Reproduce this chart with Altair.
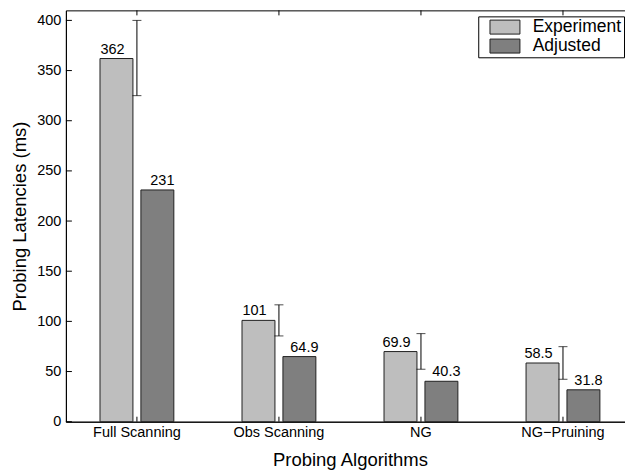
import altair as alt
import pandas as pd

categories = ["Full Scanning", "Obs Scanning", "NG", "NG\u2212Pruining"]
series = ["Experiment", "Adjusted"]
experiment = [362, 101, 69.9, 58.5]
adjusted = [231, 64.9, 40.3, 31.8]
err_low = [325, 85.5, 52.3, 42.3]
err_high = [400, 116.5, 87.8, 74.8]
y_ticks = [0, 50, 100, 150, 200, 250, 300, 350, 400]
colors = ["#bebebe", "#7f7f7f"]

W, H = 569, 412
FONT = "Liberation Sans"
XT = "Probing Algorithms"
YT = "Probing Latencies (ms)"

bars_df = pd.DataFrame({
    "algo": categories * 2,
    "series": [series[0]] * len(categories) + [series[1]] * len(categories),
    "value": experiment + adjusted,
})
err_df = pd.DataFrame({"algo": categories, "lo": err_low, "hi": err_high})
yt_df = pd.DataFrame({"v": y_ticks})
xt_df = pd.DataFrame({"algo": categories})

xscale = alt.Scale(domain=categories, paddingInner=0, paddingOuter=0)
yscale = alt.Scale(domain=[0, 410], nice=False, zero=True)

xaxis = alt.Axis(title=XT, labelAngle=0, ticks=False, tickSize=0, domain=True,
                 domainColor="black", domainWidth=1, labelPadding=4,
                 labelFontSize=14.5, titleFontSize=18.5, titlePadding=11.5,
                 titleFontWeight="normal", labelColor="black", titleColor="black",
                 labelFont=FONT, titleFont=FONT, grid=False)
yaxis = alt.Axis(title=YT, values=y_ticks, ticks=False, tickSize=0, domain=True,
                 domainColor="black", domainWidth=1, labelPadding=5,
                 labelFontSize=14.5, titleFontSize=18.5, titlePadding=7,
                 titleFontWeight="normal", labelColor="black", titleColor="black",
                 labelFont=FONT, titleFont=FONT, grid=False)

def X():
    return alt.X("algo:N", sort=categories, scale=xscale, axis=xaxis, title=XT)

def Y(field):
    return alt.Y(field, scale=yscale, axis=yaxis, title=YT)

off_scale = alt.Scale(domain=series, paddingInner=0.195, paddingOuter=0.833)

bars = alt.Chart(bars_df).mark_bar(stroke="#202020", strokeWidth=1).encode(
    x=X(),
    xOffset=alt.XOffset("series:N", sort=series, scale=off_scale),
    y=Y("value:Q"),
    color=alt.Color("series:N", sort=series,
                    scale=alt.Scale(domain=series, range=colors),
                    legend=alt.Legend(title=None, orient="none", legendX=413, legendY=6,
                                      symbolType="M0.143,-1H4.43V1H0.143Z", symbolSize=196,
                                      symbolStrokeColor="#202020", symbolStrokeWidth=1,
                                      symbolOpacity=1, labelFontSize=17.5, labelOffset=35,
                                      padding=2, rowPadding=0, strokeColor="black",
                                      fillColor="white", labelFont=FONT, labelColor="black")),
)

def labels(name, dx):
    return alt.Chart(bars_df).transform_filter(alt.datum.series == name).mark_text(
        dy=-5, dx=dx, baseline="alphabetic", fontSize=14.5, font=FONT, color="black"
    ).encode(
        x=X(),
        xOffset=alt.XOffset("series:N", sort=series, scale=off_scale),
        y=Y("value:Q"),
        text=alt.Text("value:Q", format=".3~g"),
    )

err_rule = alt.Chart(err_df).mark_rule(color="black", strokeWidth=1).encode(
    x=X(), y=Y("lo:Q"), y2="hi:Q")
cap_lo = alt.Chart(err_df).mark_tick(color="black", thickness=1, size=9, orient="horizontal").encode(
    x=X(), y=Y("lo:Q"))
cap_hi = alt.Chart(err_df).mark_tick(color="black", thickness=1, size=9, orient="horizontal").encode(
    x=X(), y=Y("hi:Q"))

ytick_l = alt.Chart(yt_df).mark_rule(color="black", strokeWidth=1).encode(
    y=Y("v:Q"), x=alt.value(0), x2=alt.value(6))
ytick_r = alt.Chart(yt_df).mark_rule(color="black", strokeWidth=1).encode(
    y=Y("v:Q"), x=alt.value(W - 6), x2=alt.value(W))
xtick_b = alt.Chart(xt_df).mark_rule(color="black", strokeWidth=1).encode(
    x=X(), y=alt.value(H - 5), y2=alt.value(H))
xtick_t = alt.Chart(xt_df).mark_rule(color="black", strokeWidth=1).encode(
    x=X(), y=alt.value(0), y2=alt.value(5))

chart = alt.layer(
    bars, labels(series[0], -4), labels(series[1], 5),
    err_rule, cap_lo, cap_hi, ytick_l, ytick_r, xtick_b, xtick_t,
).properties(
    width=W, height=H,
    padding={"left": 2, "top": 1, "right": -10, "bottom": 0},
    background="white",
).configure_view(stroke="black", strokeWidth=1)

chart.save("out.html", embed_options={"renderer": "svg", "actions": False})
